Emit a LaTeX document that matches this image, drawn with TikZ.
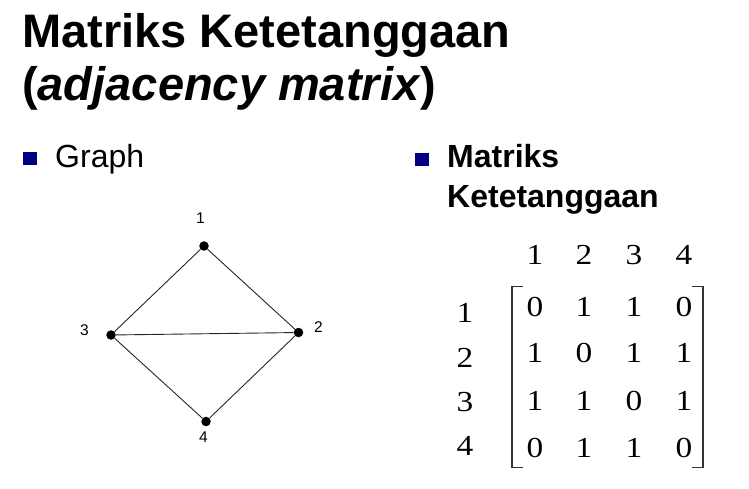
\documentclass[tikz,border=0pt]{standalone}
\usepackage{fontspec}
\usepackage{graphicx}
\setmainfont{Liberation Sans}
\newfontfamily\serifdig{Liberation Serif}
\definecolor{bulletblue}{RGB}{0,0,128}
\tikzset{
  title/.style={anchor=base west, inner sep=0pt, font=\fontsize{47}{56}\selectfont\bfseries},
  bullettext/.style={anchor=base west, inner sep=0pt, font=\fontsize{32}{40}\selectfont},
  bulletsq/.style={fill=bulletblue},
  vertex/.style={circle, fill=black, inner sep=0pt, minimum size=9.5pt},
  vlabel/.style={inner sep=0pt, font=\fontsize{15.5}{18}\selectfont},
  edge/.style={line width=0.9pt, black!85},
  mdig/.style={anchor=base, inner sep=0pt, font=\fontsize{29}{32}\serifdig},
  brk/.style={line width=1.4pt, black!80}
}
\newcommand{\widedig}[1]{\scalebox{1.15}[1]{#1}}
\begin{document}
\begin{tikzpicture}[x=1pt,y=-1pt]
\useasboundingbox (0,0) rectangle (749,488);
% titles
\node[title] (t1) at (22,47) {Matriks Ketetanggaan};
\node[title] (t2) at (22,100) {(\textit{adjacency matrix})};
% bullets
\fill[bulletsq] (23,152) rectangle (37,165);
\node[bullettext] (graph) at (55,167) {Graph};
\fill[bulletsq] (415,153) rectangle (429,166);
\node[bullettext, font=\fontsize{32}{40}\selectfont\bfseries] (mk1) at (447,167) {Matriks};
\node[bullettext, font=\fontsize{32}{40}\selectfont\bfseries] (mk2) at (447,207) {Ketetanggaan};
% graph
\node[vertex] (v1) at (204,246) {};
\node[vertex] (v2) at (298.5,332.5) {};
\node[vertex] (v3) at (111,335) {};
\node[vertex] (v4) at (206,421.5) {};
\node[vlabel] (l1) at (200.5,218) {1};
\node[vlabel] (l2) at (318.5,327.5) {2};
\node[vlabel] (l3) at (84.5,330) {3};
\node[vlabel] (l4) at (203.5,437) {4};
\draw[edge] (v1) -- (v2);
\draw[edge] (v1) -- (v3);
\draw[edge] (v3) -- (v2);
\draw[edge] (v3) -- (v4);
\draw[edge] (v4) -- (v2);
% matrix headers
\node[mdig] (c1) at (535,264) {\widedig{1}};
\node[mdig] (c2) at (584,264) {\widedig{2}};
\node[mdig] (c3) at (634,264) {\widedig{3}};
\node[mdig] (c4) at (684,264) {\widedig{4}};
\node[mdig] (r1) at (465,322) {\widedig{1}};
\node[mdig] (r2) at (465,367) {\widedig{2}};
\node[mdig] (r3) at (465,411) {\widedig{3}};
\node[mdig] (r4) at (465,455) {\widedig{4}};
% entries
\foreach \row/\y/\a/\b/\c/\d in {1/316/0/1/1/0, 2/362/1/0/1/1, 3/410/1/1/0/1, 4/457/0/1/1/0}{
  \node[mdig] (m\row-1) at (535,\y) {\widedig{\a}};
  \node[mdig] (m\row-2) at (584,\y) {\widedig{\b}};
  \node[mdig] (m\row-3) at (634,\y) {\widedig{\c}};
  \node[mdig] (m\row-4) at (684,\y) {\widedig{\d}};
}
% brackets
\draw[brk] (523,286.5) -- (512,286.5) -- (512,467.5) -- (523,467.5);
\draw[brk] (692,286.5) -- (703,286.5) -- (703,467.5) -- (692,467.5);
\end{tikzpicture}
\end{document}
